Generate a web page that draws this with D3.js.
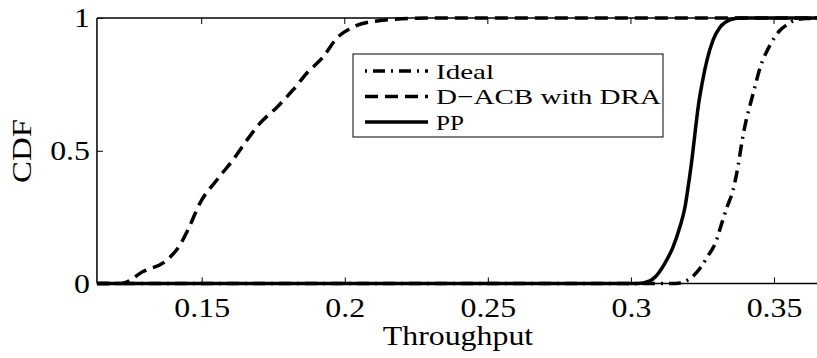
<!DOCTYPE html>
<meta charset="utf-8">
<script src="https://d3js.org/d3.v7.min.js"></script>
<style>
  body { margin: 0; background: #fff; }
  text { font-family: "Liberation Serif", "Times New Roman", serif; fill: #000; }
</style>
<body>
<div id="chart"></div>
<script>

// tick values
var xTicks = [0.15, 0.2, 0.25, 0.3, 0.35];
var yTicks = [0, 0.5, 1];
var xTickLabels = ["0.15", "0.2", "0.25", "0.3", "0.35"];
var yTickLabels = ["0", "0.5", "1"];

// series
var seriesNames = ["Ideal", "D\u2212ACB with DRA", "PP"];

var idealX = [0.1134, 0.3143, 0.3171, 0.3213, 0.3245, 0.3267, 0.3295, 0.3319, 0.3336, 0.3357, 0.3375, 0.3389,
              0.3403, 0.3421, 0.3435, 0.3452, 0.3477, 0.3501, 0.3522, 0.3545, 0.3573, 0.3615, 0.37];
var idealY = [0, 0, 0.002, 0.024, 0.062, 0.100, 0.152, 0.232, 0.288, 0.352, 0.446, 0.540,
              0.616, 0.691, 0.748, 0.815, 0.879, 0.925, 0.955, 0.974, 0.992, 0.998, 1];

var dacbX = [0.1134, 0.122, 0.1295, 0.1378, 0.1424, 0.1452, 0.1494, 0.1553, 0.1609, 0.1658, 0.1704, 0.1763,
             0.1819, 0.1868, 0.1924, 0.1973, 0.2029, 0.2113, 0.23, 0.37];
var dacbY = [0, 0, 0.045, 0.088, 0.145, 0.202, 0.303, 0.390, 0.465, 0.540, 0.604, 0.664,
             0.729, 0.793, 0.853, 0.925, 0.966, 0.989, 1, 1];

var ppX = [0.1134, 0.3021, 0.3066, 0.3084, 0.3119, 0.3147, 0.3171, 0.3189, 0.3200, 0.3213, 0.3224, 0.3235,
           0.3249, 0.3266, 0.3287, 0.3312, 0.3346, 0.3381, 0.37];
var ppY = [0, 0, 0.01, 0.024, 0.077, 0.137, 0.213, 0.288, 0.364, 0.465, 0.567, 0.665,
           0.755, 0.842, 0.917, 0.966, 0.993, 1, 1];

var W = 817, H = 358;
var margin = {top: 18, left: 97};
var plotH = 265.5;
var xMin = 0.1134, xMax = 0.37;
var stretch = 1.18;   // the original figure is a bit wider than tall text

var svg = d3.select("#chart").append("svg")
    .attr("width", W)
    .attr("height", H);

var x = d3.scaleLinear().domain([0.15, 0.35]).range([201.7, 774]);
var x0 = x(xMin), x1 = x(xMax);
var y = d3.scaleLinear().domain([0, 1]).range([margin.top + plotH, margin.top]);

function zip(xs, ys) { return xs.map(function(v, i) { return [v, ys[i]]; }); }

var line = d3.line()
    .x(function(d) { return x(d[0]); })
    .y(function(d) { return y(d[1]); })
    .curve(d3.curveMonotoneX);

var styles = [
  {data: zip(idealX, idealY), dash: "12,6,2,6"},
  {data: zip(dacbX, dacbY), dash: "13,7"},
  {data: zip(ppX, ppY), dash: null}
];

// curves
styles.forEach(function(s) {
  svg.append("path")
    .datum(s.data)
    .attr("d", line)
    .attr("fill", "none")
    .attr("stroke", "#000")
    .attr("stroke-width", 3.5)
    .attr("stroke-dasharray", s.dash);
});

// axes box (left, bottom, top)
svg.append("line").attr("x1", x0).attr("x2", x0).attr("y1", y(0)).attr("y2", y(1))
  .attr("stroke", "#000").attr("stroke-width", 1.5);
svg.append("line").attr("x1", x0).attr("x2", x1).attr("y1", y(0)).attr("y2", y(0))
  .attr("stroke", "#000").attr("stroke-width", 1.5);
svg.append("line").attr("x1", x0).attr("x2", x1).attr("y1", y(1)).attr("y2", y(1))
  .attr("stroke", "#000").attr("stroke-width", 1.5);

// x axis
var xAxis = svg.append("g")
    .attr("transform", "translate(0," + y(0) + ")")
    .call(d3.axisBottom(x).tickValues(xTicks).tickSizeInner(-6).tickSizeOuter(0)
      .tickFormat(function(d, i) { return xTickLabels[i]; }));
xAxis.select(".domain").remove();
xAxis.selectAll(".tick line").attr("stroke", "#000");
xAxis.selectAll("text")
    .attr("y", 33).attr("dy", 0)
    .style("font-size", "27px")
    .style("font-family", "Liberation Serif");

// top ticks
svg.append("g").selectAll("line").data(xTicks).enter().append("line")
    .attr("x1", function(d) { return x(d); }).attr("x2", function(d) { return x(d); })
    .attr("y1", y(1)).attr("y2", y(1) + 6)
    .attr("stroke", "#000");

// y axis
var yAxis = svg.append("g")
    .attr("transform", "translate(" + x0 + ",0)")
    .call(d3.axisLeft(y).tickValues(yTicks).tickSizeInner(-6).tickSizeOuter(0)
      .tickFormat(function(d, i) { return yTickLabels[i]; }));
yAxis.select(".domain").remove();
yAxis.selectAll(".tick line").attr("stroke", "#000");
yAxis.selectAll("text")
    .attr("x", -7).attr("dy", "0.33em")
    .style("font-size", "27px")
    .style("font-family", "Liberation Serif");

// widen the tick labels a little, like the original
svg.selectAll(".tick text").each(function() {
  var t = d3.select(this);
  t.attr("textLength", this.getComputedTextLength() * stretch)
   .attr("lengthAdjust", "spacingAndGlyphs");
});

// axis titles
var xt = svg.append("text")
    .attr("x", 458).attr("y", 345)
    .attr("text-anchor", "middle")
    .style("font-size", "27px")
    .text("Throughput");
xt.attr("textLength", xt.node().getComputedTextLength() * stretch).attr("lengthAdjust", "spacingAndGlyphs");

svg.append("text")
    .attr("transform", "translate(31,151) rotate(-90)")
    .attr("text-anchor", "middle")
    .style("font-size", "27px")
    .attr("textLength", 64)
    .attr("lengthAdjust", "spacingAndGlyphs")
    .text("CDF");

// legend
var legend = svg.append("g");
legend.append("rect")
    .attr("x", 353).attr("y", 54).attr("width", 310).attr("height", 83)
    .attr("fill", "#fff").attr("stroke", "#000").attr("stroke-width", 1);

var rowY = [71, 96.5, 122];
var labelLen = [58, 225, 28];
styles.forEach(function(s, i) {
  legend.append("line")
    .attr("x1", 365).attr("x2", 428).attr("y1", rowY[i]).attr("y2", rowY[i])
    .attr("stroke", "#000").attr("stroke-width", 3.5)
    .attr("stroke-dasharray", i === 0 ? "2,6,12,6" : s.dash);
  legend.append("text")
    .attr("x", 436).attr("y", rowY[i] + 7.5)
    .style("font-size", "22px")
    .attr("textLength", labelLen[i])
    .attr("lengthAdjust", "spacingAndGlyphs")
    .text(seriesNames[i]);
});

</script>
</body>
